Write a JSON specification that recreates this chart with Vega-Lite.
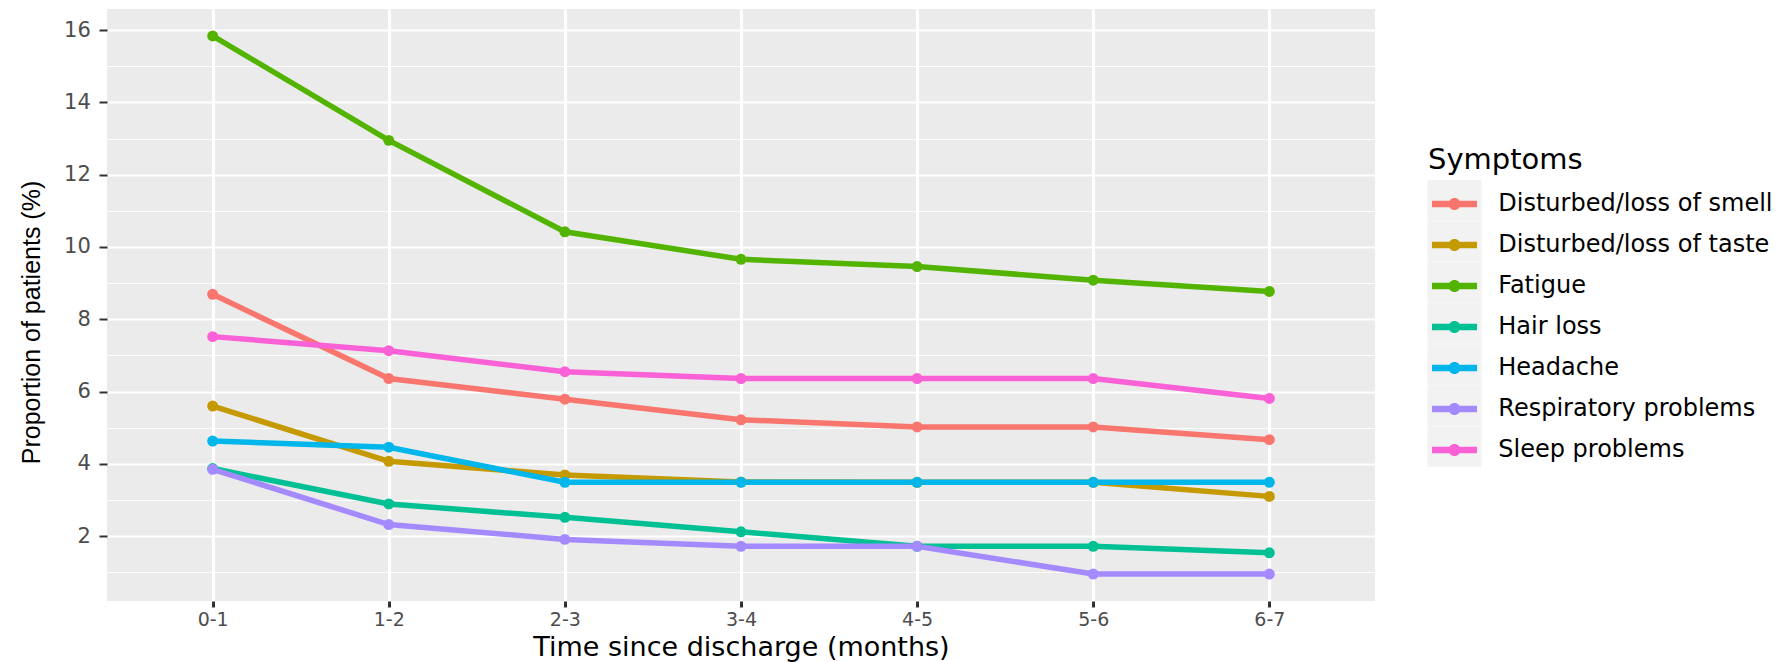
{
  "$schema": "https://vega.github.io/schema/vega-lite/v6.json",
  "autosize": {"type": "none"},
  "padding": {"left": 107, "top": 9, "right": 404, "bottom": 61},
  "width": 1268,
  "height": 592,
  "background": "white",
  "config": {"view": {"fill": "#EBEBEB", "stroke": null}, "font": "DejaVu Sans"},
  "data": {"values": [
    {"time": "0-1", "symptom": "Disturbed/loss of smell", "value": 8.69},
    {"time": "1-2", "symptom": "Disturbed/loss of smell", "value": 6.36},
    {"time": "2-3", "symptom": "Disturbed/loss of smell", "value": 5.79},
    {"time": "3-4", "symptom": "Disturbed/loss of smell", "value": 5.22},
    {"time": "4-5", "symptom": "Disturbed/loss of smell", "value": 5.02},
    {"time": "5-6", "symptom": "Disturbed/loss of smell", "value": 5.02},
    {"time": "6-7", "symptom": "Disturbed/loss of smell", "value": 4.67},
    {"time": "0-1", "symptom": "Disturbed/loss of taste", "value": 5.6},
    {"time": "1-2", "symptom": "Disturbed/loss of taste", "value": 4.07},
    {"time": "2-3", "symptom": "Disturbed/loss of taste", "value": 3.69},
    {"time": "3-4", "symptom": "Disturbed/loss of taste", "value": 3.5},
    {"time": "4-5", "symptom": "Disturbed/loss of taste", "value": 3.49},
    {"time": "5-6", "symptom": "Disturbed/loss of taste", "value": 3.49},
    {"time": "6-7", "symptom": "Disturbed/loss of taste", "value": 3.1},
    {"time": "0-1", "symptom": "Fatigue", "value": 15.84},
    {"time": "1-2", "symptom": "Fatigue", "value": 12.95},
    {"time": "2-3", "symptom": "Fatigue", "value": 10.42},
    {"time": "3-4", "symptom": "Fatigue", "value": 9.66},
    {"time": "4-5", "symptom": "Fatigue", "value": 9.46},
    {"time": "5-6", "symptom": "Fatigue", "value": 9.08},
    {"time": "6-7", "symptom": "Fatigue", "value": 8.77},
    {"time": "0-1", "symptom": "Hair loss", "value": 3.87},
    {"time": "1-2", "symptom": "Hair loss", "value": 2.89},
    {"time": "2-3", "symptom": "Hair loss", "value": 2.52},
    {"time": "3-4", "symptom": "Hair loss", "value": 2.12},
    {"time": "4-5", "symptom": "Hair loss", "value": 1.72},
    {"time": "5-6", "symptom": "Hair loss", "value": 1.72},
    {"time": "6-7", "symptom": "Hair loss", "value": 1.54},
    {"time": "0-1", "symptom": "Headache", "value": 4.63},
    {"time": "1-2", "symptom": "Headache", "value": 4.46},
    {"time": "2-3", "symptom": "Headache", "value": 3.49},
    {"time": "3-4", "symptom": "Headache", "value": 3.49},
    {"time": "4-5", "symptom": "Headache", "value": 3.49},
    {"time": "5-6", "symptom": "Headache", "value": 3.49},
    {"time": "6-7", "symptom": "Headache", "value": 3.49},
    {"time": "0-1", "symptom": "Respiratory problems", "value": 3.85},
    {"time": "1-2", "symptom": "Respiratory problems", "value": 2.32},
    {"time": "2-3", "symptom": "Respiratory problems", "value": 1.91},
    {"time": "3-4", "symptom": "Respiratory problems", "value": 1.72},
    {"time": "4-5", "symptom": "Respiratory problems", "value": 1.72},
    {"time": "5-6", "symptom": "Respiratory problems", "value": 0.95},
    {"time": "6-7", "symptom": "Respiratory problems", "value": 0.95},
    {"time": "0-1", "symptom": "Sleep problems", "value": 7.52},
    {"time": "1-2", "symptom": "Sleep problems", "value": 7.13},
    {"time": "2-3", "symptom": "Sleep problems", "value": 6.55},
    {"time": "3-4", "symptom": "Sleep problems", "value": 6.36},
    {"time": "4-5", "symptom": "Sleep problems", "value": 6.36},
    {"time": "5-6", "symptom": "Sleep problems", "value": 6.36},
    {"time": "6-7", "symptom": "Sleep problems", "value": 5.81}
  ]},
  "encoding": {
    "x": {
      "field": "time", "type": "ordinal",
      "sort": ["0-1", "1-2", "2-3", "3-4", "4-5", "5-6", "6-7"],
      "scale": {"type": "point", "padding": 0.6},
      "axis": {
        "title": "Time since discharge (months)",
        "labelAngle": 0, "domain": false,
        "grid": true, "gridColor": "white", "gridWidth": 3,
        "tickColor": "#333333", "tickSize": 6, "tickWidth": 3,
        "labelPadding": 3.5, "labelFontSize": 19, "labelColor": "#4D4D4D", "labelFont": "DejaVu Sans",
        "titleFont": "DejaVu Sans", "titleFontSize": 27, "titleFontWeight": "normal", "titleColor": "black",
        "titlePadding": 4.5
      }
    },
    "y": {
      "field": "value", "type": "quantitative",
      "scale": {"domain": [0.2055, 16.5845], "nice": false, "zero": false},
      "axis": {
        "title": "Proportion of patients (%)",
        "values": [1, 2, 3, 4, 5, 6, 7, 8, 9, 10, 11, 12, 13, 14, 15, 16],
        "labelExpr": "datum.value % 2 === 0 ? datum.label : ''",
        "domain": false,
        "grid": true, "gridColor": "white",
        "gridWidth": {"condition": {"test": "datum.value % 2 === 1", "value": 1}, "value": 2},
        "tickOpacity": {"condition": {"test": "datum.value % 2 === 1", "value": 0}, "value": 1},
        "tickColor": "#333333", "tickSize": 8, "tickWidth": 2,
        "labelPadding": 8.7, "labelFontSize": 21, "labelColor": "#4D4D4D", "labelFont": "DejaVu Sans",
        "titleFont": "Liberation Sans", "titleFontSize": 25, "titleFontWeight": "normal", "titleColor": "black",
        "titlePadding": 19, "titleY": 313
      }
    }
  },
  "layer": [
    {
      "mark": {"type": "point", "filled": true, "opacity": 0},
      "encoding": {
        "color": {
          "field": "symptom", "type": "nominal",
          "scale": {
            "domain": ["Disturbed/loss of smell", "Disturbed/loss of taste", "Fatigue", "Hair loss", "Headache", "Respiratory problems", "Sleep problems"],
            "range": ["#F2F2F2", "#F2F2F2", "#F2F2F2", "#F2F2F2", "#F2F2F2", "#F2F2F2", "#F2F2F2"]
          },
          "legend": {
            "title": null,
            "orient": "none", "legendX": 1327, "legendY": 171,
            "padding": 0,
            "labelExpr": "''", "labelOffset": 0, "labelFontSize": 10,
            "symbolType": "M-1.327,-1L1.327,-1L1.327,1L-1.327,1Z",
            "symbolSize": 1656.5, "symbolOffset": 0, "rowPadding": 0,
            "symbolStrokeWidth": 0, "symbolOpacity": 1,
            "encode": {
              "symbols": {
                "update": {
                  "fill": {"value": "#F2F2F2"},
                  "stroke": {"value": "transparent"},
                  "opacity": {"value": 1}
                }
              }
            }
          }
        }
      }
    },
    {
      "mark": {"type": "line", "strokeWidth": 5.5},
      "encoding": {
        "stroke": {
          "field": "symptom", "type": "nominal",
          "sort": ["Disturbed/loss of smell", "Disturbed/loss of taste", "Fatigue", "Hair loss", "Headache", "Respiratory problems", "Sleep problems"],
          "scale": {
            "range": ["#F8766D", "#C49A00", "#53B400", "#00C094", "#00B6EB", "#A58AFF", "#FB61D7"]
          },
          "legend": {
            "title": "Symptoms",
            "orient": "none", "legendX": 1321, "legendY": 137,
            "padding": 0,
            "titleFont": "DejaVu Sans", "titleFontSize": 29, "titleFontWeight": "normal", "titleColor": "black",
            "titlePadding": 8.5,
            "labelFont": "DejaVu Sans", "labelFontSize": 24, "labelColor": "black", "labelLimit": 0,
            "symbolType": "M-1.106,-0.162L1.106,-0.162L1.106,0.162L-1.106,0.162Z M0.295,0A0.295,0.295 0 1,1 -0.295,0A0.295,0.295 0 1,1 0.295,0Z M-1,-1L1,-1 M-1,1L1,1",
            "symbolSize": 1656.5, "symbolOffset": 6, "labelOffset": 23.3, "rowPadding": 0,
            "symbolStrokeWidth": 0, "symbolOpacity": 1,
            "encode": {
              "symbols": {
                "update": {
                  "fill": {"scale": "stroke", "field": "value"},
                  "stroke": {"value": "transparent"},
                  "opacity": {"value": 1}
                }
              }
            }
          }
        }
      }
    },
    {
      "mark": {"type": "point", "filled": true, "size": 120, "opacity": 1},
      "encoding": {
        "fill": {
          "field": "symptom", "type": "nominal",
          "sort": ["Disturbed/loss of smell", "Disturbed/loss of taste", "Fatigue", "Hair loss", "Headache", "Respiratory problems", "Sleep problems"],
          "scale": {
            "range": ["#F8766D", "#C49A00", "#53B400", "#00C094", "#00B6EB", "#A58AFF", "#FB61D7"]
          },
          "legend": null
        }
      }
    }
  ]
}
